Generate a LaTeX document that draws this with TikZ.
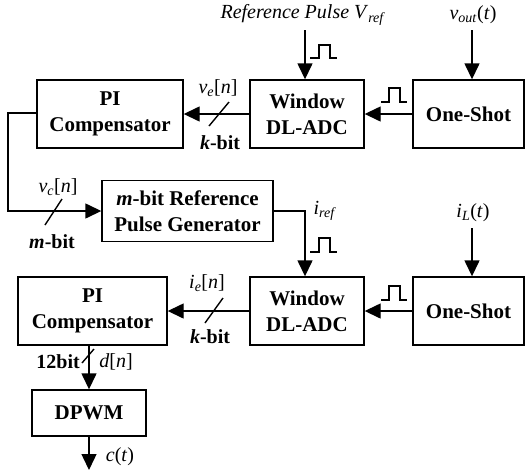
\documentclass[tikz,border=0pt]{standalone}
\usepackage{fontspec}
\setmainfont{Liberation Serif}
\usetikzlibrary{arrows.meta}
\newcommand{\vsub}[2]{\textit{#1}\textsubscript{\textit{#2}}}
\begin{document}
\begin{tikzpicture}[x=1pt,y=-1pt,
  box/.style={draw, line width=1.4pt, inner sep=0pt, align=center,
    font=\fontsize{21}{26}\selectfont\bfseries},
  lbl/.style={font=\fontsize{20}{24}\selectfont, inner sep=0pt},
  wire/.style={line width=1.4pt},
  pulse/.style={line width=1.2pt},
  arr/.style={wire, -{Triangle[length=16pt,width=15pt]}},
]
\useasboundingbox (0,0) rectangle (525,472);

% boxes
\node[box, minimum width=146pt, minimum height=68pt] (pi1) at (110,114) {PI\\Compensator};
\node[box, minimum width=114pt, minimum height=68pt] (w1) at (307,114) {Window\\DL-ADC};
\node[box, minimum width=111pt, minimum height=68pt] (os1) at (468.5,114) {One-Shot};
\node[box, minimum width=171pt, minimum height=61pt] (rpg) at (187.5,211) {\textit{m}-bit Reference\\Pulse Generator};
\node[box, minimum width=149pt, minimum height=68pt] (pi2) at (92.5,311) {PI\\Compensator};
\node[box, minimum width=114pt, minimum height=68pt] (w2) at (307,311) {Window\\DL-ADC};
\node[box, minimum width=111pt, minimum height=68pt] (os2) at (468.5,311) {One-Shot};
\node[box, minimum width=114pt, minimum height=46pt] (dpwm) at (89,413) {DPWM};

% labels
\node[lbl] (rp) at (303,15) {\textit{Reference Pulse V}\textsubscript{\textit{ref}}};
\node[lbl] (vo) at (473,15) {\vsub{v}{out}(\textit{t})};
\node[lbl] (ve) at (218,88) {\vsub{v}{e}[\textit{n}]};
\node[lbl] (kb1) at (220,143) {\textbf{\textit{k}-bit}};
\node[lbl] (vc) at (58,187) {\vsub{v}{c}[\textit{n}]};
\node[lbl] (mb) at (52,242) {\textbf{\textit{m}-bit}};
\node[lbl] (iref) at (325,211) {\vsub{i}{ref}};
\node[lbl] (il) at (473,213) {\vsub{i}{L}(\textit{t})};
\node[lbl] (ie) at (207,283) {\vsub{i}{e}[\textit{n}]};
\node[lbl] (kb2) at (210,337) {\textbf{\textit{k}-bit}};
\node[lbl, anchor=east] (b12) at (80,362) {\textbf{12bit}};
\node[lbl] (dn) at (116,362) {\textit{d}[\textit{n}]};
\node[lbl] (ct) at (120,457) {\textit{c}(\textit{t})};

% connectors
\coordinate (rpin) at (305,30);
\draw[arr] (rpin) -- (rpin |- w1.north);
\coordinate (voin) at (472,30);
\draw[arr] (voin) -- (voin |- os1.north);
\draw[arr] (os1.west) -- (w1.east);
\draw[arr] (w1.west) -- (pi1.east);

\coordinate (fb1) at (8,113);
\coordinate (fb2) at (8,211);
\draw[arr] (pi1.west |- fb1) -- (fb1) -- (fb2) -- (rpg.west |- fb2);

\coordinate (ir) at (305,211);
\draw[arr] (rpg.east |- ir) -- (ir) -- (ir |- w2.north);
\coordinate (ilin) at (472,228);
\draw[arr] (ilin) -- (ilin |- os2.north);
\draw[arr] (os2.west) -- (w2.east);
\draw[arr] (w2.west) -- (pi2.east);

\draw[arr] (pi2.south -| dpwm.north) -- (dpwm.north);
\coordinate (cout) at (89,470);
\draw[arr] (dpwm.south) -- (cout);

% bus slashes
\draw[wire] (209,126) -- (229,102);
\draw[wire] (45,225) -- (62,199);
\draw[wire] (205,323) -- (223,298);
\draw[wire] (82,363) -- (94,349);

% pulses
\draw[pulse] (310,58) -- (319,58) -- (319,45) -- (330,45) -- (330,58) -- (337,58);
\draw[pulse] (381,102) -- (389,102) -- (389,88) -- (400,88) -- (400,102) -- (407,102);
\draw[pulse] (310,252) -- (319,252) -- (319,238) -- (330,238) -- (330,252) -- (337,252);
\draw[pulse] (381,300) -- (389,300) -- (389,286) -- (400,286) -- (400,300) -- (407,300);
\end{tikzpicture}
\end{document}
